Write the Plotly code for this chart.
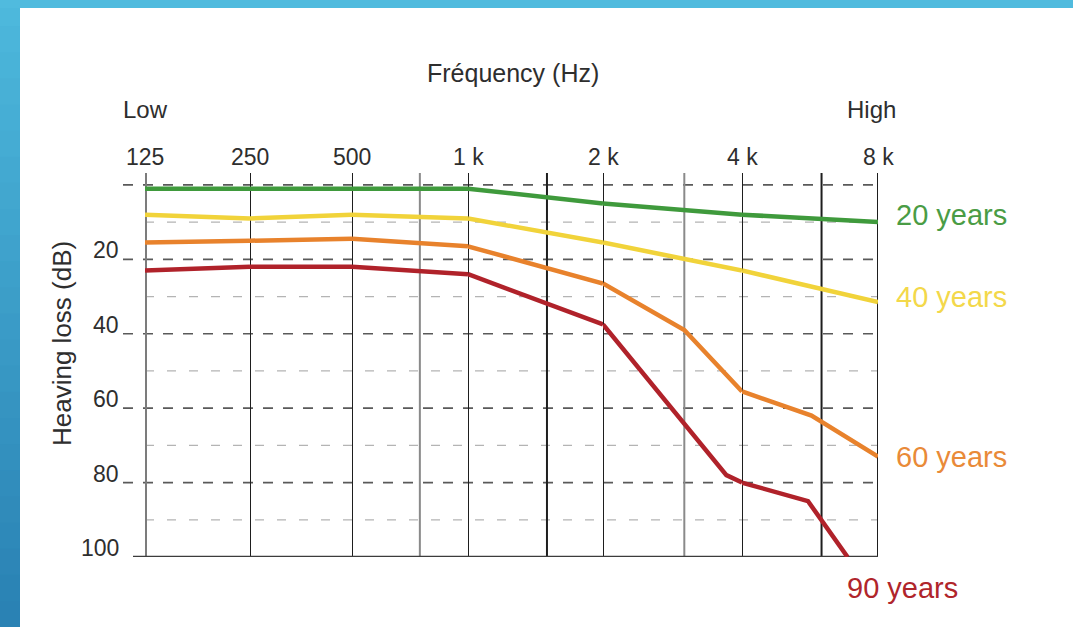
import math
import plotly.graph_objects as go

# ---------------- data ----------------
octave_freqs = [125, 250, 500, 1000, 2000, 4000, 8000]
octave_labels = ["125", "250", "500", "1 k", "2 k", "4 k", "8 k"]
inter_freqs_dark = [1500, 6000]
inter_freqs_light = [750, 3000]
db_major = [0, 20, 40, 60, 80]
db_minor = [10, 30, 50, 70, 90]
db_tick_labels = [20, 40, 60, 80, 100]

series_names = ["20 years", "40 years", "60 years", "90 years"]
freq_20 = [125, 250, 500, 1000, 2000, 4000, 8000]
loss_20 = [1, 1, 1, 1, 5, 8, 10]
freq_40 = [125, 250, 500, 1000, 2000, 4000, 8000]
loss_40 = [8, 9, 8, 9, 15.5, 23, 31.5]
freq_60 = [125, 250, 500, 1000, 2000, 3000, 4000, 5700, 8000]
loss_60 = [15.5, 15, 14.5, 16.5, 26.5, 39, 55.5, 62, 73]
freq_90 = [125, 250, 500, 1000, 2000, 3700, 4000, 5600, 6850]
loss_90 = [23, 22, 22, 24, 37.5, 78, 80, 85, 100]

# ---------------- styling / layout ----------------
W, H = 1073, 627
ML, MR, MT, MB = 145, 195, 173, 70
PW, PH = W - ML - MR, H - MT - MB
seg_px = [145, 250, 352, 468, 603, 742, 878]   # pixel edges of each octave band
FONT = "Liberation Sans, Arial, Helvetica, sans-serif"
colors = ["#3f9a3c", "#f1d33a", "#e8822c", "#b0222a"]
label_colors = ["#4a9c45", "#f3d84a", "#e98a38", "#b0252b"]


def px_x(p):
    return (p - ML) / PW


def px_y(p):
    return (H - MB - p) / PH


def seg_index(f):
    for i in range(6):
        if octave_freqs[i] <= f <= octave_freqs[i + 1]:
            return i
    return 5


def axname(i):
    return "x" if i == 0 else f"x{i + 1}"


fig = go.Figure()

series = [(freq_20, loss_20), (freq_40, loss_40), (freq_60, loss_60), (freq_90, loss_90)]
for k, (fr, ls) in enumerate(series):
    for i in range(6):
        lo, hi = octave_freqs[i], octave_freqs[i + 1]
        pts = [(f, v) for f, v in zip(fr, ls) if lo <= f <= hi]
        if len(pts) < 2:
            continue
        fig.add_trace(go.Scatter(
            x=[p[0] for p in pts], y=[p[1] for p in pts],
            xaxis=axname(i), yaxis="y", mode="lines",
            line=dict(color=colors[k], width=4.5),
            name=series_names[k], showlegend=False, hoverinfo="skip"))

layout = dict(
    width=W, height=H,
    margin=dict(l=ML, r=MR, t=MT, b=MB),
    paper_bgcolor="white", plot_bgcolor="rgba(0,0,0,0)",
    showlegend=False,
    font=dict(family=FONT, color="#333333"),
    yaxis=dict(range=[100, -3.2], domain=[0, 1], visible=False, fixedrange=True),
)
for i in range(6):
    key = "xaxis" if i == 0 else f"xaxis{i + 1}"
    layout[key] = dict(
        type="log",
        range=[math.log10(octave_freqs[i]), math.log10(octave_freqs[i + 1])],
        domain=[px_x(seg_px[i]), px_x(seg_px[i + 1])],
        anchor="y", visible=False, fixedrange=True)
fig.update_layout(**layout)

shapes = []
# blue frame (left bar with vertical gradient, top bar)
n = 24
for j in range(n):
    t = j / (n - 1)
    r = int(0x4d + (0x2a - 0x4d) * t)
    g = int(0xb8 + (0x82 - 0xb8) * t)
    b = int(0xdc + (0xb4 - 0xdc) * t)
    y0 = H * j / n
    y1 = H * (j + 1) / n + 1
    shapes.append(dict(type="rect", xref="paper", yref="paper",
                       x0=px_x(0), x1=px_x(20), y0=px_y(y1), y1=px_y(y0),
                       fillcolor=f"rgb({r},{g},{b})", line=dict(width=0), layer="below"))
shapes.append(dict(type="rect", xref="paper", yref="paper",
                   x0=px_x(0), x1=px_x(W), y0=px_y(8), y1=px_y(0),
                   fillcolor="#50bbde", line=dict(width=0), layer="below"))

# horizontal dashed grid
for v in db_minor:
    shapes.append(dict(type="line", xref="paper", yref="y", x0=0, x1=1, y0=v, y1=v,
                       line=dict(color="#b4b4b4", width=1.3, dash="9px,13px"), layer="below"))
for v in db_major:
    shapes.append(dict(type="line", xref="paper", yref="y", x0=px_x(123), x1=1, y0=v, y1=v,
                       line=dict(color="#5a5a5a", width=1.6, dash="10px,10px"), layer="below"))

# vertical grid lines through the frequency axes
for f in octave_freqs[1:]:
    i = seg_index(f) if f < 8000 else 5
    if f < 8000 and f == octave_freqs[i + 1]:
        i = i + 1 if i + 1 < 6 else i
    shapes.append(dict(type="line", xref=axname(i), yref="paper", x0=f, x1=f, y0=0, y1=1,
                       line=dict(color="#1e1e1e", width=2), layer="below"))
for f in inter_freqs_dark:
    i = seg_index(f)
    shapes.append(dict(type="line", xref=axname(i), yref="paper", x0=f, x1=f, y0=0, y1=1,
                       line=dict(color="#1e1e1e", width=2), layer="below"))
for f in inter_freqs_light:
    i = seg_index(f)
    shapes.append(dict(type="line", xref=axname(i), yref="paper", x0=f, x1=f, y0=0, y1=1,
                       line=dict(color="#8a8a8a", width=2), layer="below"))
# left axis (125 Hz) and bottom line (100 dB)
shapes.append(dict(type="line", xref="x", yref="paper", x0=octave_freqs[0], x1=octave_freqs[0],
                   y0=0, y1=1, line=dict(color="#7c7c7c", width=4), layer="below"))
shapes.append(dict(type="line", xref="paper", yref="y", x0=px_x(133), x1=1, y0=100, y1=100,
                   line=dict(color="#3c3c3c", width=2.5), layer="below"))

annotations = []
# frequency tick labels
for i, (f, lab) in enumerate(zip(octave_freqs, octave_labels)):
    ax = axname(min(i, 5))
    annotations.append(dict(text=lab, xref=ax, yref="paper", x=math.log10(f), y=1,
                            yanchor="middle", xanchor="center", yshift=16, showarrow=False,
                            font=dict(size=23, color="#2e2e2e")))
annotations.append(dict(text="Low", xref="x", yref="paper", x=math.log10(octave_freqs[0]), y=1,
                        yanchor="middle", xanchor="center", yshift=64, showarrow=False,
                        font=dict(size=24, color="#2e2e2e")))
annotations.append(dict(text="High", xref="x6", yref="paper", x=math.log10(octave_freqs[-1]), y=1,
                        yanchor="middle", xanchor="center", xshift=-7, yshift=64, showarrow=False,
                        font=dict(size=24, color="#2e2e2e")))
annotations.append(dict(text="Fréquency (Hz)", xref="paper", yref="paper", x=px_x(513), y=1,
                        yanchor="middle", xanchor="center", yshift=100, showarrow=False,
                        font=dict(size=25, color="#2e2e2e")))
# loss tick labels
for v in db_tick_labels:
    annotations.append(dict(text=str(v), xref="paper", yref="y", x=0, y=v,
                            xanchor="right", yanchor="middle", xshift=-24, yshift=9,
                            showarrow=False, font=dict(size=23, color="#2e2e2e")))
annotations.append(dict(text="Heaving loss (dB)", xref="paper", yref="paper", x=px_x(62), y=px_y(344),
                        textangle=-90, xanchor="center", yanchor="middle", showarrow=False,
                        font=dict(size=26, color="#2e2e2e")))
# series labels at line ends
label_shift = [7, 5, 0, 0]
for k, (fr, ls) in enumerate(series):
    if k < 3:
        annotations.append(dict(text=series_names[k], xref="x6", yref="y",
                                x=math.log10(fr[-1]), y=ls[-1], xanchor="left", yanchor="middle",
                                xshift=16, yshift=label_shift[k], showarrow=False,
                                font=dict(size=29, color=label_colors[k])))
    else:
        annotations.append(dict(text=series_names[k], xref="x6", yref="y",
                                x=math.log10(fr[-1]), y=ls[-1], xanchor="left", yanchor="middle",
                                xshift=-3, yshift=-31, showarrow=False,
                                font=dict(size=29, color=label_colors[k])))

fig.update_layout(shapes=shapes, annotations=annotations)
fig.write_html("out.html", config={"displayModeBar": False},
               post_script="document.body.style.margin='0px';")
